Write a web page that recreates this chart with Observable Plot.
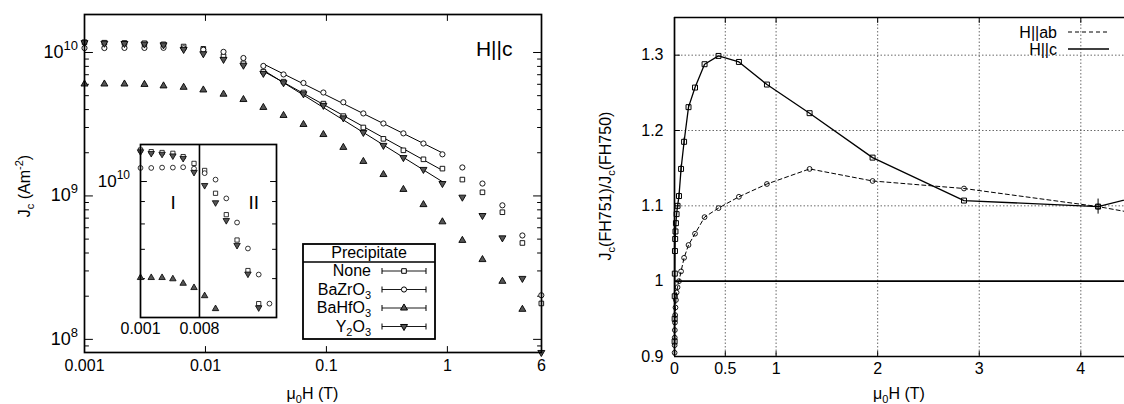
<!DOCTYPE html>
<html><head><meta charset="utf-8">
<script src="https://cdn.jsdelivr.net/npm/d3@7"></script>
<script src="https://cdn.jsdelivr.net/npm/@observablehq/plot@0.6"></script>
<style>
html,body{margin:0;padding:0;background:#fff;}
#wrap{position:relative;width:1124px;height:404px;overflow:hidden;}
#wrap svg{position:absolute;}
</style></head>
<body><div id="wrap"></div>
<script>
// ---------------- data ----------------
const fieldT   = [0.001, 0.00146, 0.00214, 0.00313, 0.0045, 0.0066, 0.0096, 0.0141, 0.0206, 0.0301, 0.0442, 0.0646, 0.0944, 0.138, 0.202, 0.296, 0.433, 0.634, 0.91, 1.33, 1.95, 2.85, 4.17, 5.98];
const jcNone   = [1.18e10, 1.17e10, 1.165e10, 1.16e10, 1.14e10, 1.10e10, 1.06e10, 9.4e9, 8.4e9, 7.35e9, 6.26e9, 5.26e9, 4.4e9, 3.6e9, 3.0e9, 2.5e9, 2.08e9, 1.8e9, 1.55e9, 1.30e9, 1.06e9, 7.7e8, 4.7e8, 1.78e8];
const jcBaZrO3 = [1.074e10, 1.074e10, 1.076e10, 1.076e10, 1.078e10, 1.07e10, 1.045e10, 1.01e10, 9.15e9, 8.06e9, 7.03e9, 6.13e9, 5.26e9, 4.5e9, 3.76e9, 3.2e9, 2.73e9, 2.32e9, 1.95e9, 1.58e9, 1.22e9, 8.6e8, 5.3e8, 2.03e8];
const jcBaHfO3 = [6.03e9, 6.03e9, 6.03e9, 5.99e9, 5.85e9, 5.72e9, 5.48e9, 5.12e9, 4.7e9, 4.14e9, 3.64e9, 3.15e9, 2.68e9, 2.18e9, 1.74e9, 1.41e9, 1.11e9, 8.7e8, 6.6e8, 4.9e8, 3.6e8, 2.54e8, 1.62e8, null];
const jcY2O3   = [1.17e10, 1.16e10, 1.155e10, 1.145e10, 1.13e10, 1.05e10, 9.8e9, 8.95e9, 8.15e9, 7.15e9, 6.15e9, 5.15e9, 4.28e9, 3.5e9, 2.77e9, 2.25e9, 1.85e9, 1.53e9, 1.22e9, 9.8e8, 7.3e8, 5.1e8, 2.66e8, 8.1e7];
const seriesNames = ["None", "BaZrO3", "BaHfO3", "Y2O3"];
const fittedSeries = ["None", "BaZrO3", "Y2O3"];
const fitIndexRange = [9, 18];

const ratioHc    = [0.92, 0.95, 0.98, 1.01, 1.04, 1.056, 1.066, 1.077, 1.089, 1.10, 1.113, 1.149, 1.185, 1.231, 1.257, 1.288, 1.299, 1.291, 1.261, 1.223, 1.164, 1.107, 1.099, 1.16];
const ratioHcErr = [0, 0, 0, 0, 0, 0, 0, 0, 0, 0, 0.004, 0.005, 0.005, 0.003, 0, 0, 0, 0, 0, 0, 0, 0, 0.01, 0];
const ratioHab   = [0.905, 0.915, 0.925, 0.935, 0.945, 0.955, 0.965, 0.975, 0.985, 0.992, 1.0, 1.013, 1.031, 1.048, 1.063, 1.085, 1.097, 1.112, 1.129, 1.149, 1.133, 1.123, 1.099, 1.055];

const mainXTickLabels = [0.001, 0.01, 0.1, 1, 6];
const mainXTicks = [0.01, 0.1, 1];
const mainYMajor = [1e8, 1e9, 1e10];
const mainYMinor = [9e7, 2e8, 3e8, 4e8, 5e8, 6e8, 7e8, 8e8, 9e8, 2e9, 3e9, 4e9, 5e9, 6e9, 7e9, 8e9, 9e9];
const insetYTicks = [6e9, 7e9, 8e9, 9e9];
const insetYLabel = [1e10];
const insetXLabels = [0.001, 0.008];
const insetDivider = [0.008];
const rightXTicks = [0, 0.5, 1, 2, 3, 4];
const rightYTicks = [0.9, 1, 1.1, 1.2, 1.3];
const rightXGrid = [0.5, 1, 2, 3, 4];
const rightYGrid = [1.1, 1.2, 1.3];
const unityLine = [1];

// ---------------- styles ----------------
const FONT = '"Liberation Sans", Arial, Helvetica, sans-serif';
const triangleDown = {draw(ctx, size) {
  const y = -Math.sqrt(size / (Math.sqrt(3) * 3));
  ctx.moveTo(0, -y * 2); ctx.lineTo(-Math.sqrt(3) * y, y); ctx.lineTo(Math.sqrt(3) * y, y); ctx.closePath();
}};
const markerStyle = {
  None:   {symbol: "square", d3sym: d3.symbolSquare, fill: "white"},
  BaZrO3: {symbol: "circle", d3sym: d3.symbolCircle, fill: "white"},
  BaHfO3: {symbol: "triangle", d3sym: d3.symbolTriangle, fill: "#555"},
  Y2O3:   {symbol: triangleDown, d3sym: triangleDown, fill: "#555"}
};
const tickShape = {draw(ctx, l) { ctx.moveTo(0, 0); ctx.lineTo(0, -l); }};
function edgeTicks(values, channel, side, len) {
  const rot = {left: 90, right: -90, bottom: 0, top: 180}[side];
  return Plot.vector(values, {[channel]: d => d, frameAnchor: side, rotate: rot, length: len,
    anchor: "start", shape: tickShape, stroke: "black", strokeWidth: 1});
}
function xLabels(values, dy, fontSize) {
  return Plot.text(values, {x: d => d, text: d => String(d), frameAnchor: "bottom", dy, fontSize});
}
function rich(parent, parts, attrs, small) {
  const t = parent.append("text");
  for (const [k, v] of Object.entries(attrs)) t.attr(k, v);
  let shift = 0;
  for (const [s, kind] of parts) {
    const target = kind === "sub" ? small.sub : kind === "sup" ? small.sup : 0;
    const ts = t.append("tspan").attr("dy", target - shift).text(s);
    if (kind !== "n") ts.attr("font-size", small.size);
    shift = target;
  }
  return t;
}
const nameParts = {
  None: [["None", "n"]],
  BaZrO3: [["BaZrO", "n"], ["3", "sub"]],
  BaHfO3: [["BaHfO", "n"], ["3", "sub"]],
  Y2O3: [["Y", "n"], ["2", "sub"], ["O", "n"], ["3", "sub"]]
};

// ---------------- rows ----------------
const arrays = {None: jcNone, BaZrO3: jcBaZrO3, BaHfO3: jcBaHfO3, Y2O3: jcY2O3};
const mainRows = seriesNames.flatMap(name => fieldT.map((h, i) => ({name, i, h, jc: arrays[name][i]})).filter(d => d.jc != null));
const fitRows = fittedSeries.flatMap(name => {
  const pts = mainRows.filter(d => d.name === name && d.i >= fitIndexRange[0] && d.i <= fitIndexRange[1]);
  const lx = pts.map(d => Math.log10(d.h)), ly = pts.map(d => Math.log10(d.jc));
  const mx = d3.mean(lx), my = d3.mean(ly);
  const b = d3.sum(lx.map((x, k) => (x - mx) * (ly[k] - my))) / d3.sum(lx.map(x => (x - mx) ** 2));
  const a = my - b * mx;
  return [pts[0].h, pts[pts.length - 1].h].map(h => ({name, h, jc: 10 ** (a + b * Math.log10(h))}));
});
const wrap = document.getElementById("wrap");
const baseStyle = {background: "transparent", fontFamily: FONT, fontSize: "16px", color: "black", overflow: "visible"};

// ---------------- left main plot ----------------
const main = Plot.plot({
  width: 560, height: 404,
  marginLeft: 84, marginRight: 19, marginTop: 14, marginBottom: 52,
  x: {type: "log", domain: [0.001, 6], axis: null, label: null},
  y: {type: "log", domain: [8.1e7, 1.84e10], axis: null, label: null},
  style: baseStyle,
  marks: [
    edgeTicks(mainYMajor, "y", "left", 8), edgeTicks(mainYMajor, "y", "right", 8),
    edgeTicks(mainYMinor, "y", "left", 4), edgeTicks(mainYMinor, "y", "right", 4),
    edgeTicks(mainXTicks, "x", "bottom", 6), edgeTicks(mainXTicks, "x", "top", 6),
    xLabels(mainXTickLabels, 18, 16),
    Plot.line(fitRows, {x: "h", y: "jc", z: "name", stroke: "black", strokeWidth: 1}),
    ...seriesNames.map(name => Plot.dot(mainRows.filter(d => d.name === name), {
      x: "h", y: "jc", symbol: markerStyle[name].symbol, r: 2.6,
      fill: markerStyle[name].fill, stroke: "black", strokeWidth: 0.9})),
    Plot.text(["H||c"], {text: d => d, frameAnchor: "top-right", dx: -29, dy: 27, textAnchor: "end", fontSize: 21}),
    Plot.frame({stroke: "black", strokeWidth: 1.7})
  ]
});
main.style.left = "0px"; main.style.top = "0px";
wrap.appendChild(main);
{
  const sx = main.scale("x"), sy = main.scale("y");
  const g = d3.select(main).append("g").attr("font-family", FONT);
  for (const v of mainYMajor) {
    rich(g, [["10", "n"], [String(Math.round(Math.log10(v))), "sup"]],
      {x: sx.apply(0.001) - 6, y: sy.apply(v) + 6, "text-anchor": "end", "font-size": 18}, {size: 13, sup: -8, sub: 0});
  }
  rich(g, [["J", "n"], ["c", "sub"], [" (Am", "n"], ["-2", "sup"], [")", "n"]],
    {x: 0, y: 0, "text-anchor": "middle", "font-size": 16, transform: "translate(30,186) rotate(-90)"}, {size: 11, sup: -7, sub: 4});
  rich(g, [["\u03bc", "n"], ["0", "sub"], ["H (T)", "n"]],
    {x: (sx.apply(0.001) + sx.apply(6)) / 2, y: 399, "text-anchor": "middle", "font-size": 16}, {size: 11, sup: -7, sub: 4});
  // legend
  const lg = g.append("g");
  lg.append("rect").attr("x", 303).attr("y", 244).attr("width", 132).attr("height", 95)
    .attr("fill", "white").attr("stroke", "black").attr("stroke-width", 1.8);
  lg.append("line").attr("x1", 303).attr("x2", 435).attr("y1", 262).attr("y2", 262).attr("stroke", "black").attr("stroke-width", 1.5);
  lg.append("text").attr("x", 369).attr("y", 258).attr("text-anchor", "middle").attr("font-size", 16).text("Precipitate");
  seriesNames.forEach((name, k) => {
    const base = 276 + k * 18.5;
    rich(lg, nameParts[name], {x: 371, y: base, "text-anchor": "end", "font-size": 16}, {size: 11, sup: -7, sub: 4});
    const ly = base - 5;
    lg.append("line").attr("x1", 382).attr("x2", 426).attr("y1", ly).attr("y2", ly).attr("stroke", "black").attr("stroke-width", 0.9);
    for (const xx of [382, 426]) lg.append("line").attr("x1", xx).attr("x2", xx).attr("y1", ly - 3).attr("y2", ly + 3).attr("stroke", "black");
    lg.append("path").attr("transform", `translate(404,${ly})`)
      .attr("d", d3.symbol().type(markerStyle[name].d3sym).size(2.6 * 2.6 * Math.PI)())
      .attr("fill", markerStyle[name].fill).attr("stroke", "black");
  });
}

// ---------------- inset ----------------
const insetX = [0.001, 0.121], insetY = [4.89e9, 1.215e10];
const insetRows = mainRows.filter(d => d.h >= insetX[0] && d.h <= insetX[1] && d.jc >= insetY[0] && d.jc <= insetY[1]);
const inset = Plot.plot({
  width: 188, height: 200,
  marginLeft: 50, marginRight: 2, marginTop: 2, marginBottom: 25,
  x: {type: "log", domain: insetX, axis: null, label: null},
  y: {type: "log", domain: insetY, axis: null, label: null},
  style: baseStyle,
  marks: [
    Plot.ruleX(insetDivider, {stroke: "black", strokeWidth: 1.6}),
    edgeTicks(insetYTicks, "y", "left", 4), edgeTicks(insetYTicks, "y", "right", 4),
    edgeTicks(insetYLabel, "y", "left", 6), edgeTicks(insetYLabel, "y", "right", 6),
    xLabels(insetXLabels, 16, 16),
    ...seriesNames.map(name => Plot.dot(insetRows.filter(d => d.name === name), {
      x: "h", y: "jc", symbol: markerStyle[name].symbol, r: 2.4,
      fill: markerStyle[name].fill, stroke: "black", strokeWidth: 0.8})),
    Plot.text(["I"], {text: d => d, frameAnchor: "top-left", dx: 30, dy: 51, fontSize: 19}),
    Plot.text(["II"], {text: d => d, frameAnchor: "top-left", dx: 108, dy: 51, fontSize: 19}),
    Plot.frame({stroke: "black", strokeWidth: 1.7})
  ]
});
inset.style.left = "90px"; inset.style.top = "142px";
wrap.appendChild(inset);
{
  const sx = inset.scale("x"), sy = inset.scale("y");
  const g = d3.select(inset).append("g").attr("font-family", FONT);
  for (const v of insetYLabel) {
    rich(g, [["10", "n"], [String(Math.round(Math.log10(v))), "sup"]],
      {x: sx.apply(insetX[0]) - 10, y: sy.apply(v) + 6, "text-anchor": "end", "font-size": 17}, {size: 12, sup: -8, sub: 0});
  }
}

// ---------------- right plot ----------------
const rightRows = fieldT.map((h, i) => ({h, ab: ratioHab[i], c: ratioHc[i], cErr: ratioHcErr[i]}));
const rxDomain = [0, 4.43], ryDomain = [0.9, 1.35];
const visible = rightRows.filter(d => d.h <= rxDomain[1]);
const right = Plot.plot({
  width: 564, height: 404,
  marginLeft: 114, marginRight: 0, marginTop: 17, marginBottom: 48,
  x: {domain: rxDomain, axis: null, label: null},
  y: {domain: ryDomain, axis: null, label: null},
  style: baseStyle,
  marks: [
    Plot.ruleX(rightXGrid, {stroke: "#444", strokeWidth: 0.8, strokeDasharray: "1.5,2"}),
    Plot.ruleY(rightYGrid, {stroke: "#444", strokeWidth: 0.8, strokeDasharray: "1.5,2"}),
    Plot.ruleY(unityLine, {stroke: "black", strokeWidth: 1.6}),
    Plot.ruleY(ryDomain, {stroke: "black", strokeWidth: 1.7}),
    Plot.ruleX(rxDomain.slice(0, 1), {stroke: "black", strokeWidth: 1.7}),
    edgeTicks(rightXGrid, "x", "bottom", 5), edgeTicks(rightXGrid, "x", "top", 5),
    edgeTicks(rightYGrid, "y", "left", 5),
    xLabels(rightXTicks, 17, 16),
    Plot.text(rightYTicks, {y: d => d, text: d => String(d), frameAnchor: "left", dx: -11, textAnchor: "end", fontSize: 16}),
    Plot.line(rightRows, {x: "h", y: "ab", stroke: "black", strokeWidth: 1, strokeDasharray: "4,3", clip: true}),
    Plot.line(rightRows, {x: "h", y: "c", stroke: "black", strokeWidth: 1.3, clip: true}),
    Plot.ruleX(visible.filter(d => d.cErr > 0), {x: "h", y1: d => d.c - d.cErr, y2: d => d.c + d.cErr, stroke: "black", strokeWidth: 1}),
    Plot.dot(visible, {x: "h", y: "ab", symbol: "circle", r: 2.4, fill: "none", stroke: "black", strokeWidth: 0.9}),
    Plot.dot(visible, {x: "h", y: "c", symbol: "square", r: 2.8, fill: "none", stroke: "black", strokeWidth: 1})
  ]
});
right.style.left = "560px"; right.style.top = "0px";
wrap.appendChild(right);
{
  const sx = right.scale("x");
  const g = d3.select(right).append("g").attr("font-family", FONT);
  rich(g, [["J", "n"], ["c", "sub"], ["(FH751)/J", "n"], ["c", "sub"], ["(FH750)", "n"]],
    {x: 0, y: 0, "text-anchor": "middle", "font-size": 16, transform: "translate(51,186) rotate(-90)"}, {size: 11, sup: -7, sub: 4});
  rich(g, [["\u03bc", "n"], ["0", "sub"], ["H (T)", "n"]],
    {x: (sx.apply(rxDomain[0]) + sx.apply(rxDomain[1])) / 2, y: 399, "text-anchor": "middle", "font-size": 16}, {size: 11, sup: -7, sub: 4});
  const legendItems = [["H||ab", "4,3", 38], ["H||c", null, 55]];
  for (const [label, dash, base] of legendItems) {
    g.append("text").attr("x", 497).attr("y", base).attr("text-anchor", "end").attr("font-size", 16).text(label);
    const l = g.append("line").attr("x1", 508).attr("x2", 549).attr("y1", base - 6).attr("y2", base - 6)
      .attr("stroke", "black").attr("stroke-width", dash ? 1 : 1.3);
    if (dash) l.attr("stroke-dasharray", dash);
  }
}
</script>
</body></html>
